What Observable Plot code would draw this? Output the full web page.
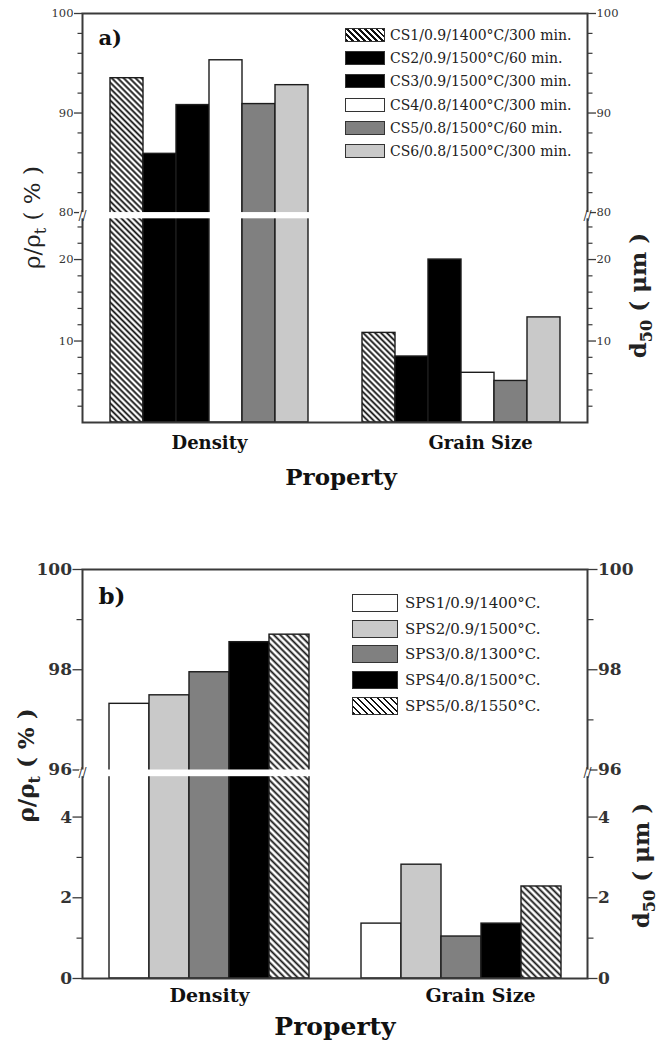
<!DOCTYPE html>
<html>
<head>
<meta charset="utf-8">
<script src="https://cdn.jsdelivr.net/npm/d3@7"></script>
<script src="https://cdn.jsdelivr.net/npm/@observablehq/plot@0.6"></script>
<style>
  body { margin: 0; background: #fff; }
  .panel { position: relative; width: 670px; }
  .panel svg { position: absolute; left: 0; top: 0; }
  .legend { position: absolute; font-family: "DejaVu Serif", serif; color: #222; }
  .legend .row { display: flex; align-items: center; white-space: nowrap; }
  .legend .sw { box-sizing: border-box; border: 1.5px solid #333; flex: none; }
</style>
</head>
<body>
<div id="a" class="panel"></div>
<div id="b" class="panel"></div>
<script>
// ---------- data ----------
const properties = ["Density", "Grain Size"];

const seriesA = [
  "CS1/0.9/1400°C/300 min.",
  "CS2/0.9/1500°C/60 min.",
  "CS3/0.9/1500°C/300 min.",
  "CS4/0.8/1400°C/300 min.",
  "CS5/0.8/1500°C/60 min.",
  "CS6/0.8/1500°C/300 min."
];
const densityA = [93.5, 85.9, 90.8, 95.3, 90.9, 92.8];   // ρ/ρt (%)
const grainA   = [11.0, 8.1, 20.0, 6.1, 5.1, 12.9];      // d50 (µm)
const majorTicksA = [10, 20, 80, 90, 100];
const minorTicksA = [2, 4, 6, 8, 12, 14, 16, 18, 22, 24, 82, 84, 86, 88, 92, 94, 96, 98];

const seriesB = [
  "SPS1/0.9/1400°C.",
  "SPS2/0.9/1500°C.",
  "SPS3/0.8/1300°C.",
  "SPS4/0.8/1500°C.",
  "SPS5/0.8/1550°C."
];
const densityB = [97.32, 97.49, 97.95, 98.55, 98.70];
const grainB   = [1.36, 2.82, 1.04, 1.36, 2.28];
const majorTicksB = [0, 2, 4, 96, 98, 100];
const minorTicksB = [1, 3, 97, 99];

// ---------- styles ----------
const HATCH = "hatch";
const paletteA = [HATCH, "#000000", "#000000", "#ffffff", "#808080", "#c9c9c9"];
const paletteB = ["#ffffff", "#c9c9c9", "#808080", "#000000", HATCH];

function drawPanel(cfg) {
  const root = d3.select(cfg.el).style("height", cfg.height + "px");
  const {lowerTop, upperBottom, upperTop, fLower, fGap} = cfg.breakAxis;
  const fUpper = 1 - fLower - fGap;
  // broken axis: value -> fraction of the axis height
  const brk = v => v <= lowerTop ? (v / lowerTop) * fLower
    : v >= upperBottom ? fLower + fGap + ((v - upperBottom) / (upperTop - upperBottom)) * fUpper
    : fLower + ((v - lowerTop) / (upperBottom - lowerTop)) * fGap;

  const rows = cfg.properties.flatMap((p, i) =>
    cfg.series.map((s, j) => ({property: p, series: s, value: cfg.values[i][j]})));
  const hatchId = "hatch-" + cfg.el.slice(1);
  const fills = cfg.palette.map(c => c === HATCH ? `url(#${hatchId})` : c);

  const common = {
    width: 670, height: cfg.height,
    marginTop: cfg.marginTop, marginBottom: cfg.marginBottom,
    marginLeft: 82, marginRight: 83
  };

  // ---- bars layer (faceted: property -> group, series -> bar) ----
  const bars = Plot.plot({
    ...common,
    style: {background: "transparent"},
    facet: {data: rows, x: "property"},
    fx: {domain: cfg.properties, paddingInner: 0, paddingOuter: 0, axis: null},
    x: {domain: cfg.series, paddingInner: 0, paddingOuter: cfg.series.length / 8, axis: null},
    y: {domain: [0, 1], axis: null},
    color: {domain: cfg.series, range: fills},
    marks: [
      Plot.barY(rows, {x: "series", y: d => brk(d.value), fill: "series", stroke: "#1c1c1c", strokeWidth: 1.4})
    ]
  });
  const g = cfg.hatchGap;
  d3.select(bars).insert("defs", ":first-child").html(
    `<pattern id="${hatchId}" patternUnits="userSpaceOnUse" width="${g}" height="${g}" patternTransform="rotate(-45)">` +
    `<rect width="${g}" height="${g}" fill="#fff"/>` +
    `<line x1="${g / 2}" y1="-1" x2="${g / 2}" y2="${g + 1}" stroke="#111" stroke-width="1.8"/></pattern>`);
  root.node().appendChild(bars);

  // ---- overlay: frame, axes, break, labels ----
  const labelOf = new Map(cfg.major.map(v => [brk(v), String(v)]));
  const gap = [{y1: brk(lowerTop), y2: brk(upperBottom), mid: brk((lowerTop + upperBottom) / 2)}];
  const axisCol = "#3a3a3a";
  const over = Plot.plot({
    ...common,
    style: {background: "transparent", fontFamily: "DejaVu Serif", fontSize: cfg.tickFont + "px",
            fontWeight: cfg.tickWeight, color: "#333"},
    x: {domain: cfg.properties, paddingInner: 0.2, paddingOuter: 0.1, axis: null},
    y: {domain: [0, 1], axis: null},
    marks: [
      Plot.frame({stroke: axisCol, strokeWidth: 2}),
      Plot.axisY({ticks: cfg.minor.map(brk), anchor: "left", tickSize: cfg.minorSize, tickFormat: () => "", stroke: axisCol, strokeWidth: 1.2, label: null}),
      Plot.axisY({ticks: cfg.minor.map(brk), anchor: "right", tickSize: cfg.minorSize, tickFormat: () => "", stroke: axisCol, strokeWidth: 1.2, label: null}),
      Plot.axisY({ticks: cfg.major.map(brk), anchor: "left", tickSize: cfg.majorSize, tickPadding: 1, tickFormat: v => labelOf.get(v), stroke: axisCol, strokeWidth: 1.3, label: null}),
      Plot.axisY({ticks: cfg.major.map(brk), anchor: "right", tickSize: cfg.majorSize, tickPadding: 1, tickFormat: v => labelOf.get(v), stroke: axisCol, strokeWidth: 1.3, label: null}),
      Plot.rectY(gap, {y1: "y1", y2: "y2", fill: "#fff", insetLeft: -3, insetRight: -3}),
      Plot.text(gap, {y: "mid", frameAnchor: "left", textAnchor: "middle", text: () => "//", fontSize: 12, fontWeight: "normal", fill: "#333"}),
      Plot.text(gap, {y: "mid", frameAnchor: "right", textAnchor: "middle", text: () => "//", fontSize: 12, fontWeight: "normal", fill: "#333"}),
      Plot.text([cfg.properties[0]], {x: d => d, text: d => d, frameAnchor: "bottom", lineAnchor: "bottom", dy: cfg.catDy, fontSize: cfg.catFont, fontWeight: "bold", fill: "#111"}),
      Plot.text([cfg.properties[1]], {x: d => d, text: d => d, frameAnchor: "bottom", lineAnchor: "bottom", dy: cfg.catDy, dx: 19, fontSize: cfg.catFont, fontWeight: "bold", fill: "#111"}),
      Plot.text(["Property"], {text: d => d, frameAnchor: "bottom", lineAnchor: "bottom", dy: cfg.propDy, dx: cfg.propDx, fontSize: cfg.propFont, fontWeight: "bold", fill: "#111"}),
      Plot.text([cfg.tag], {text: d => d, frameAnchor: "top-left", textAnchor: "start", lineAnchor: "top", dx: 16, dy: cfg.tagDy, fontSize: cfg.tagFont, fontWeight: "bold", fill: "#111"})
    ]
  });
  root.node().appendChild(over);

  // rotated axis titles with subscripts
  const s = d3.select(over);
  const mid = cfg.marginTop + (cfg.height - cfg.marginTop - cfg.marginBottom) / 2;
  const t1 = s.append("text")
    .attr("transform", `translate(${cfg.leftTitleX},${mid + cfg.leftTitleDy}) rotate(-90)`)
    .attr("text-anchor", "middle").attr("font-family", "DejaVu Serif")
    .attr("font-size", cfg.titleFont).attr("font-weight", cfg.titleWeight).attr("fill", "#222");
  t1.append("tspan").text("ρ/ρ");
  t1.append("tspan").attr("font-size", cfg.titleFont * 0.7).attr("dy", cfg.titleFont * 0.28).text("t");
  t1.append("tspan").attr("dy", -cfg.titleFont * 0.28).text(" ( % )");

  const t2 = s.append("text")
    .attr("transform", `translate(${cfg.rightTitleX},${mid + cfg.rightTitleDy}) rotate(-90)`)
    .attr("text-anchor", "middle").attr("font-family", "DejaVu Serif")
    .attr("font-size", cfg.titleFont).attr("font-weight", "bold").attr("fill", "#222");
  t2.append("tspan").text("d");
  t2.append("tspan").attr("font-size", cfg.titleFont * 0.7).attr("dy", cfg.titleFont * 0.28).text("50");
  t2.append("tspan").attr("dy", -cfg.titleFont * 0.28).text(" ( μm )");

  // legend inside the plot area
  const lg = root.append("div").attr("class", "legend")
    .style("left", cfg.legend.left + "px").style("top", cfg.legend.top + "px")
    .style("font-size", cfg.legend.font + "px");
  cfg.series.forEach((name, i) => {
    const row = lg.append("div").attr("class", "row").style("height", cfg.legend.rowH + "px");
    const c = cfg.palette[i];
    row.append("div").attr("class", "sw")
      .style("width", cfg.legend.swW + "px").style("height", cfg.legend.swH + "px")
      .style("background", c === HATCH
        ? `repeating-linear-gradient(45deg, #111 0 1.7px, #fff 1.7px ${cfg.hatchGap}px)` : c);
    row.append("span").style("margin-left", cfg.legend.gap + "px").text(name);
  });
}

drawPanel({
  el: "#a", height: 515, marginTop: 13, marginBottom: 93,
  properties, series: seriesA, values: [densityA, grainA], palette: paletteA,
  breakAxis: {lowerTop: 25, upperBottom: 80, upperTop: 100, fLower: 0.498, fGap: 0.0153},
  major: majorTicksA, minor: minorTicksA, majorSize: 8, minorSize: 4.5,
  tickFont: 11.5, tickWeight: "normal", hatchGap: 4.2,
  catDy: 26, catFont: 18, propDy: 62, propDx: 6, propFont: 23, tag: "a)", tagDy: 17, tagFont: 21,
  titleFont: 23, titleWeight: "normal", leftTitleX: 40, leftTitleDy: 0, rightTitleX: 646, rightTitleDy: 78,
  legend: {left: 345, top: 23.4, rowH: 23.2, swW: 40, swH: 14, gap: 5, font: 14}
});

drawPanel({
  el: "#b", height: 528, marginTop: 54, marginBottom: 65,
  properties, series: seriesB, values: [densityB, grainB], palette: paletteB,
  breakAxis: {lowerTop: 5, upperBottom: 96, upperTop: 100, fLower: 0.4934, fGap: 0.0164},
  major: majorTicksB, minor: minorTicksB, majorSize: 9.5, minorSize: 5.5,
  tickFont: 17, tickWeight: "bold", hatchGap: 4.6,
  catDy: 23, catFont: 19, propDy: 56, propDx: 0, propFont: 25, tag: "b)", tagDy: 18, tagFont: 23,
  titleFont: 23, titleWeight: "bold", leftTitleX: 34, leftTitleDy: -8, rightTitleX: 649, rightTitleDy: 92,
  legend: {left: 352, top: 75, rowH: 25.8, swW: 46, swH: 18, gap: 7, font: 15}
});
</script>
</body>
</html>
